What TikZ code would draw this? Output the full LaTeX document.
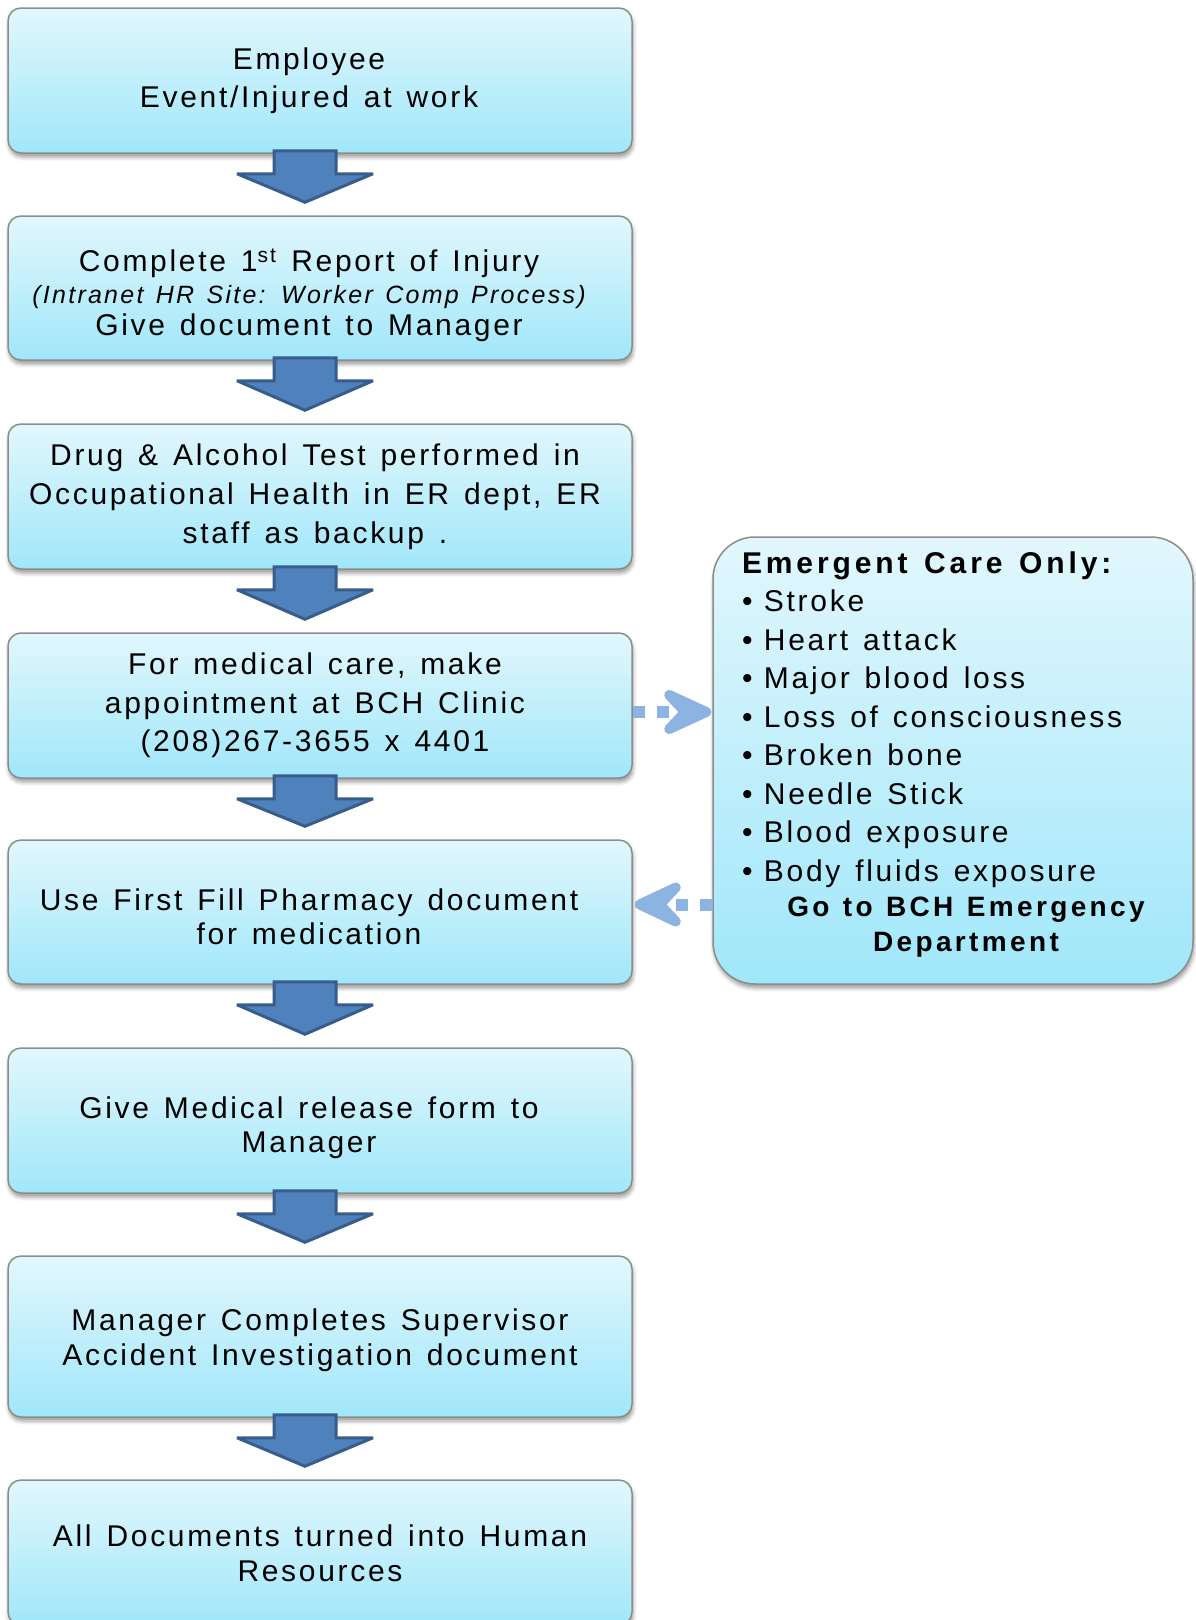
\documentclass[tikz,border=0pt]{standalone}
\usepackage{fontspec}
\setmainfont{Liberation Sans}
\newfontfamily\bodyfont{Liberation Sans}[LetterSpace=9,WordSpace=1.35]
\newfontfamily\headfont{Liberation Sans}[LetterSpace=13,WordSpace=1.35]
\newfontfamily\gofont{Liberation Sans}[LetterSpace=12,WordSpace=1.2]
\usetikzlibrary{calc,shadows.blur}
\definecolor{boxtop}{RGB}{226,247,253}
\definecolor{boxbot}{RGB}{160,231,250}
\definecolor{boxline}{RGB}{140,140,140}
\definecolor{arrfill}{RGB}{79,129,189}
\definecolor{arrline}{RGB}{56,93,138}
\definecolor{dashblue}{RGB}{141,179,226}
% #1 horizontal kern (shifts text left by half), #2 lowering of the text, #3 lines
\newcommand\bxt[3]{\raisebox{-#2pt}[\height][\depth]{\begin{tabular}{@{}c@{}}#3\end{tabular}}\kern#1pt}
\newcommand\bul{\makebox[22pt][l]{•}}
\newcommand\blockarrow[2]{%
  \draw[blockarr] ($(#1.south)+(-46,-3)$) -- ++(62,0) -- ++(0,23) -- ++(37,0)
    -- ($(#2.north)+(-15,-13)$) -- ($(#1.south)+(-83,20)$) -- ++(37,0) -- cycle;}
\tikzset{
  flowbox/.style={rectangle, rounded corners=13pt, draw=boxline, line width=1.5pt,
    top color=boxtop, bottom color=boxbot, minimum width=624pt, minimum height=145pt,
    inner sep=0pt,
    blur shadow={shadow xshift=1pt, shadow yshift=-4pt, shadow blur radius=4pt, shadow opacity=40}},
  blockarr/.style={fill=arrfill, draw=arrline, line width=3pt, line join=miter, miter limit=2},
  dashconn/.style={draw=dashblue, line width=12pt, dash pattern=on 12pt off 12pt},
  headstyle/.style={fill=dashblue, draw=dashblue, line width=10pt, line join=round},
}
\begin{document}
\begin{tikzpicture}[x=1pt,y=-1pt]
\useasboundingbox (0,0) rectangle (1196,1620);
\node[flowbox, font=\bodyfont\fontsize{30}{38}\selectfont] (b1) at (320,80.5)
  {\bxt{22}{0}{Employee\\Event/Injured at work}};
\node[flowbox, minimum height=144pt, font=\bodyfont\fontsize{30}{32}\selectfont] (b2) at (320,288)
  {\bxt{22}{9}{Complete 1\textsuperscript{st} Report of Injury\\{\fontsize{25}{32}\selectfont\itshape (Intranet HR Site: Worker Comp Process)}\\Give document to Manager}};
\node[flowbox, font=\bodyfont\fontsize{30}{39}\selectfont] (b3) at (320,496.5)
  {\bxt{10}{0}{Drug \& Alcohol Test performed in\\Occupational Health in ER dept, ER\\staff as backup .}};
\node[flowbox, font=\bodyfont\fontsize{30}{38.5}\selectfont] (b4) at (320,705.5)
  {\bxt{10}{0}{For medical care, make\\appointment at BCH Clinic\\(208)267-3655 x 4401}};
\node[flowbox, minimum height=144pt, font=\bodyfont\fontsize{30}{34}\selectfont] (b5) at (320,912)
  {\bxt{22}{9}{Use First Fill Pharmacy document\\for medication}};
\node[flowbox, font=\bodyfont\fontsize{30}{34}\selectfont] (b6) at (320,1120.5)
  {\bxt{22}{8}{Give Medical release form to\\Manager}};
\node[flowbox, minimum height=161pt, font=\bodyfont\fontsize{30}{35}\selectfont] (b7) at (320,1336.5)
  {\bxt{0}{4}{Manager Completes Supervisor\\Accident Investigation document}};
\node[flowbox, font=\bodyfont\fontsize{30}{35}\selectfont] (b8) at (320,1552.5)
  {\bxt{0}{4}{All Documents turned into Human\\Resources}};
\node[flowbox, rounded corners=42pt, minimum width=480pt, minimum height=447pt] (er) at (953,760.5)
  {\kern26pt\begin{minipage}{448pt}
   \bodyfont\fontsize{30}{38.5}\selectfont
   {\headfont\bfseries Emergent Care Only:}\\
   \bul Stroke\\
   \bul Heart attack\\
   \bul Major blood loss\\
   \bul Loss of consciousness\\
   \bul Broken bone\\
   \bul Needle Stick\\
   \bul Blood exposure\\
   \bul Body fluids exposure\par
   \centering\gofont\bfseries\fontsize{28}{35}\selectfont Go to BCH Emergency\\Department\par
   \kern12pt\hrule height0pt
  \end{minipage}};
\blockarrow{b1}{b2}
\blockarrow{b2}{b3}
\blockarrow{b3}{b4}
\blockarrow{b4}{b5}
\blockarrow{b5}{b6}
\blockarrow{b6}{b7}
\blockarrow{b7}{b8}
% dashed connector b4 -> er
\coordinate (d1s) at ([yshift=-6.5pt]b4.east);
\coordinate (d1t) at (d1s -| er.west);
\draw[dashconn] (d1s) -- ++(37,0);
\filldraw[headstyle] ($(d1t)+(-6,0)$) -- ($(d1t)+(-43,-17)$) -- ($(d1t)+(-27,0)$) -- ($(d1t)+(-43,17)$) -- cycle;
% dashed connector er -> b5
\coordinate (d2t) at ([yshift=7.5pt]b5.east);
\coordinate (d2s) at (d2t -| er.west);
\draw[dashconn] (d2s) -- ++(-36,0);
\filldraw[headstyle] ($(d2t)+(7,0)$) -- ($(d2t)+(43,-17)$) -- ($(d2t)+(27,0)$) -- ($(d2t)+(43,17)$) -- cycle;
\end{tikzpicture}
\end{document}
